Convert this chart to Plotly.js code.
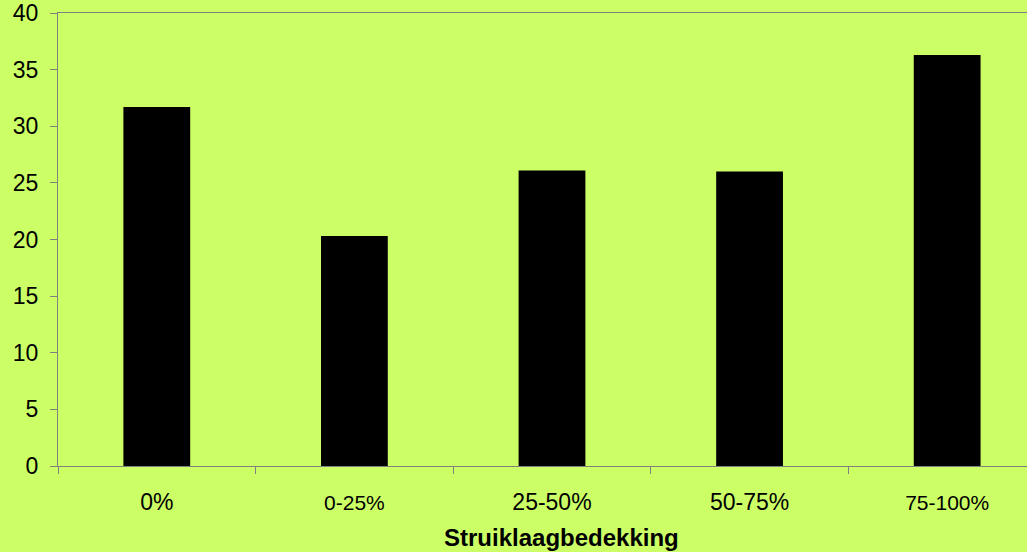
<!DOCTYPE html>
<html>
<head>
<meta charset="utf-8">
<script src="https://cdn.plot.ly/plotly-3.0.1.min.js"></script>
<style>html,body{margin:0;padding:0;background:#CCFF66;}</style>
</head>
<body>
<div id="chart" style="width:1027px;height:552px;"></div>
<script>
const categories = ['0%', '0-25%', '25-50%', '50-75%', '75-100%'];
const values = [31.7, 20.3, 26.1, 26.0, 36.3];
const labelSizes = [23, 21, 23, 23, 21];
const xTitle = 'Struiklaagbedekking';
const yTicks = [0, 5, 10, 15, 20, 25, 30, 35, 40];

const tickText = categories.map((c, i) => '<span style="font-size:' + labelSizes[i] + 'px">' + c + '</span>');

const trace = {
  type: 'bar',
  x: categories,
  y: values,
  marker: {color: '#000000', line: {width: 0}},
  hoverinfo: 'skip'
};

const layout = {
  width: 1027,
  height: 552,
  paper_bgcolor: '#CCFF66',
  plot_bgcolor: '#CCFF66',
  margin: {l: 58, r: 0, t: 13, b: 86},
  bargap: 0.662,
  showlegend: false,
  font: {family: 'Liberation Sans, Arial, sans-serif', color: '#000000'},
  xaxis: {
    type: 'category',
    range: [-0.5, 4.404],
    tickmode: 'array',
    tickvals: categories,
    ticktext: tickText,
    tickson: 'boundaries',
    ticks: 'outside',
    ticklen: 7,
    tickcolor: '#808080',
    tickwidth: 1,
    ticklabelstandoff: 15,
    tickfont: {size: 23, color: '#000000'},
    showline: true,
    linecolor: '#808080',
    linewidth: 1,
    mirror: true,
    showgrid: false,
    zeroline: false,
    fixedrange: true
  },
  yaxis: {
    range: [0, 40],
    tickmode: 'array',
    tickvals: yTicks,
    ticks: 'outside',
    ticklen: 7,
    tickcolor: '#808080',
    tickwidth: 1,
    ticklabelstandoff: 7,
    tickfont: {size: 23, color: '#000000'},
    showline: true,
    linecolor: '#808080',
    linewidth: 1,
    showgrid: false,
    zeroline: false,
    fixedrange: true
  },
  annotations: [{
    text: '<b>' + xTitle + '</b>',
    xref: 'paper', yref: 'paper',
    x: 0.52, y: -0.157,
    xanchor: 'center', yanchor: 'middle',
    showarrow: false,
    font: {size: 24, color: '#000000', family: 'Liberation Sans, Arial, sans-serif'}
  }]
};

Plotly.newPlot('chart', [trace], layout, {displayModeBar: false, staticPlot: true});
</script>
</body>
</html>
